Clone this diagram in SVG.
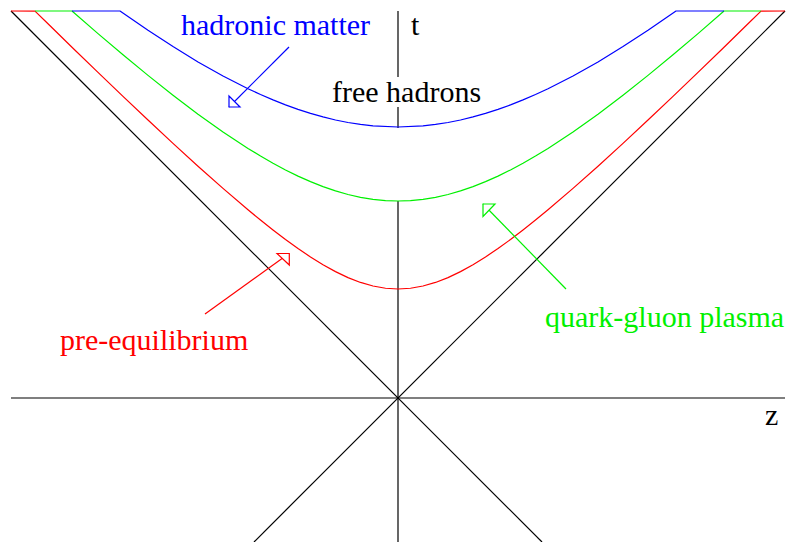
<svg xmlns="http://www.w3.org/2000/svg" width="787" height="542" viewBox="0 0 787 542">
<style>
.ln{fill:none;stroke-width:1.2;stroke-linejoin:round}
.k{stroke:#000}
.r{stroke:#ff0000}
.g{stroke:#00f000}
.b{stroke:#0000ff}
.ah{fill:#fff;stroke-width:1.2}
.tx{font-family:'Liberation Serif','Times New Roman',Times,serif;font-size:30px}
</style>
<rect width="787" height="542" fill="#fff"/>
<g id="axes">
<line class="ln k" x1="11" y1="398" x2="785" y2="398"/>
<line class="ln k" x1="398" y1="11" x2="398" y2="77"/>
<line class="ln k" x1="398" y1="107" x2="398" y2="128"/>
<line class="ln k" x1="398" y1="201" x2="398" y2="542"/>
<line class="ln k" x1="11" y1="11" x2="542" y2="542"/>
<line class="ln k" x1="785" y1="11" x2="254" y2="542"/>
<text class="tx" font-family="Liberation Serif, serif" x="411" y="35" fill="#000">t</text>
<text class="tx" font-family="Liberation Serif, serif" x="765" y="425" fill="#000">z</text>
</g>
<g id="pre-equilibrium-curve">
<polyline class="ln r" points="11,11 35,11.07 48,23.8 73,48.2 98,72.4 123,96.4 148,120.05 173,143.4 198,166.2 223,188.4 248,209.8 260.5,220.08 273,230 285.5,239.51 298,248.5 310.5,256.97 323,264.7 335.5,271.64 348,277.6 360.5,282.45 373,286 385.5,288.25 398,289 410.5,288.25 423,286 435.5,282.45 448,277.6 460.5,271.64 473,264.7 485.5,256.97 498,248.5 510.5,239.51 523,230 535.5,220.08 548,209.8 573,188.4 598,166.2 623,143.4 648,120.05 673,96.4 698,72.4 723,48.2 748,23.8 761,11.07 785,11"/>
</g>
<g id="qgp-curve">
<polyline class="ln g" points="35,11 72,11 98,33.6 123,54.8 148,75.4 173,95.2 198,114.2 223,132 235.5,140.36 248,148.4 260.5,156.03 273,163.2 285.5,169.92 298,176.1 310.5,181.66 323,186.6 335.5,190.91 348,194.5 360.5,197.31 373,199.35 385.5,200.59 398,201 410.5,200.59 423,199.35 435.5,197.31 448,194.5 460.5,190.91 473,186.6 485.5,181.66 498,176.1 510.5,169.92 523,163.2 535.5,156.03 548,148.4 560.5,140.36 573,132 598,114.2 623,95.2 648,75.4 673,54.8 698,33.6 724,11 761,11"/>
</g>
<g id="hadronic-curve">
<polyline class="ln b" points="72,11 120,11 148,30.3 173,46.6 198,61.9 223,76 248,88.7 260.5,94.49 273,99.9 285.5,104.84 298,109.35 310.5,113.39 323,116.9 335.5,119.97 348,122.5 360.5,124.45 373,125.9 398,127 423,125.9 435.5,124.45 448,122.5 460.5,119.97 473,116.9 485.5,113.39 498,109.35 510.5,104.84 523,99.9 535.5,94.49 548,88.7 573,76 598,61.9 623,46.6 648,30.3 676,11 724,11"/>
</g>
<g id="free-hadrons">
<text class="tx" font-family="Liberation Serif, serif" x="332" y="102" fill="#000">free hadrons</text>
</g>
<g id="hadronic-matter">
<text class="tx" font-family="Liberation Serif, serif" x="181" y="35" fill="#0000ff">hadronic matter</text>
</g>
<g id="quark-gluon-plasma">
<text class="tx" font-family="Liberation Serif, serif" x="545" y="327" fill="#00f000">quark-gluon plasma</text>
</g>
<g id="pre-equilibrium">
<text class="tx" font-family="Liberation Serif, serif" x="60" y="350" fill="#ff0000">pre-equilibrium</text>
</g>
<g id="connectors">
<line class="ln b" x1="289" y1="47" x2="229" y2="107"/>
<polygon class="ah b" points="229,96 229,107 240,107"/>
<line class="ln r" x1="205" y1="314" x2="289" y2="253.5"/>
<polygon class="ah r" points="277,253.5 289.3,253.5 289.3,265"/>
<line class="ln g" x1="566" y1="289" x2="483" y2="204"/>
<polygon class="ah g" points="483,204 495,204 483,216.5"/>
</g>
</svg>
